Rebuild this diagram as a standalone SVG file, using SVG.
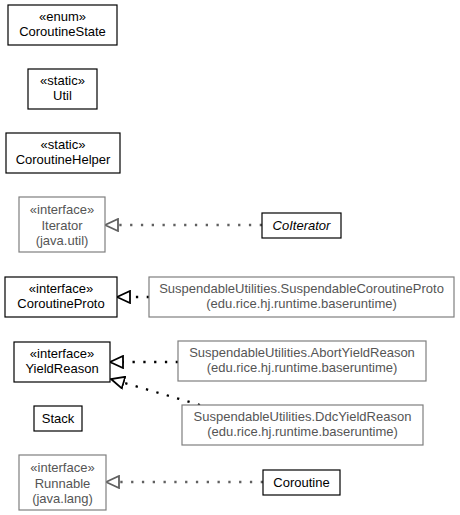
<svg xmlns="http://www.w3.org/2000/svg" width="460" height="515" viewBox="0 0 460 515">
<style>
text{font-family:"Liberation Sans",Arial,sans-serif;font-size:13px;text-anchor:middle}
.b rect{fill:#fff;stroke:#000;stroke-width:1.2}
.g rect{fill:#fff;stroke:#7f7f7f;stroke-width:1.2}
.g text{fill:#555}
.b text{fill:#000}
.eb{stroke:#000;stroke-width:2.3;stroke-dasharray:2.3,8.5;fill:none}
.eg{stroke:#606060;stroke-width:2.3;stroke-dasharray:2.3,8.5;fill:none}
</style>
<defs>
<marker id="tb" markerUnits="userSpaceOnUse" markerWidth="16" markerHeight="14" refX="14" refY="7" orient="auto" viewBox="0 0 16 14"><path d="M1,1 L14,7 L1,13 Z" fill="#fff" stroke="#000" stroke-width="1.8" stroke-dasharray="none"/></marker>
<marker id="tg" markerUnits="userSpaceOnUse" markerWidth="16" markerHeight="14" refX="14" refY="7" orient="auto" viewBox="0 0 16 14"><path d="M1,1 L14,7 L1,13 Z" fill="#fff" stroke="#606060" stroke-width="1.8" stroke-dasharray="none"/></marker>
</defs>
<g id="connectors">
<line class="eg" x1="262" y1="225" x2="105" y2="225" marker-end="url(#tg)"/>
<line class="eb" x1="149" y1="297" x2="117" y2="297" marker-end="url(#tb)"/>
<line class="eb" x1="178" y1="362" x2="110" y2="362" marker-end="url(#tb)"/>
<line class="eb" x1="200" y1="405" x2="111" y2="379" marker-end="url(#tb)"/>
<line class="eg" x1="263" y1="482" x2="106" y2="482" marker-end="url(#tg)"/>
</g>
<g id="CoroutineState" class="b"><rect x="8" y="5" width="109" height="40"/><text x="62.5" y="20.5">«enum»</text><text x="62.5" y="36">CoroutineState</text></g>
<g id="Util" class="b"><rect x="28" y="69" width="69" height="40"/><text x="62.5" y="84.5">«static»</text><text x="62.5" y="100">Util</text></g>
<g id="CoroutineHelper" class="b"><rect x="6" y="133" width="114" height="40"/><text x="63" y="148.5">«static»</text><text x="63" y="164">CoroutineHelper</text></g>
<g id="Iterator" class="g"><rect x="19" y="197" width="86" height="55"/><text x="62" y="214">«interface»</text><text x="62" y="229.5">Iterator</text><text x="62" y="245">(java.util)</text></g>
<g id="CoIterator" class="b"><rect x="262" y="213" width="79" height="25"/><text x="301.5" y="230" font-style="italic">CoIterator</text></g>
<g id="CoroutineProto" class="b"><rect x="5" y="277" width="112" height="40"/><text x="61" y="292.5">«interface»</text><text x="61" y="308">CoroutineProto</text></g>
<g id="SuspendableCoroutineProto" class="g"><rect x="149" y="277" width="305" height="40"/><text x="301.5" y="292.5">SuspendableUtilities.SuspendableCoroutineProto</text><text x="301.5" y="308">(edu.rice.hj.runtime.baseruntime)</text></g>
<g id="YieldReason" class="b"><rect x="14" y="342" width="96" height="40"/><text x="62" y="357.5">«interface»</text><text x="62" y="373">YieldReason</text></g>
<g id="AbortYieldReason" class="g"><rect x="178" y="341" width="248" height="40"/><text x="302" y="356.5">SuspendableUtilities.AbortYieldReason</text><text x="302" y="372">(edu.rice.hj.runtime.baseruntime)</text></g>
<g id="Stack" class="b"><rect x="34" y="406" width="48" height="25"/><text x="58" y="423">Stack</text></g>
<g id="DdcYieldReason" class="g"><rect x="182" y="405" width="241" height="40"/><text x="302.5" y="420.5">SuspendableUtilities.DdcYieldReason</text><text x="302.5" y="436">(edu.rice.hj.runtime.baseruntime)</text></g>
<g id="Runnable" class="g"><rect x="19" y="455" width="87" height="55"/><text x="62.5" y="472">«interface»</text><text x="62.5" y="487.5">Runnable</text><text x="62.5" y="503">(java.lang)</text></g>
<g id="Coroutine" class="b"><rect x="263" y="470" width="77" height="25"/><text x="301.5" y="487">Coroutine</text></g>
</svg>
